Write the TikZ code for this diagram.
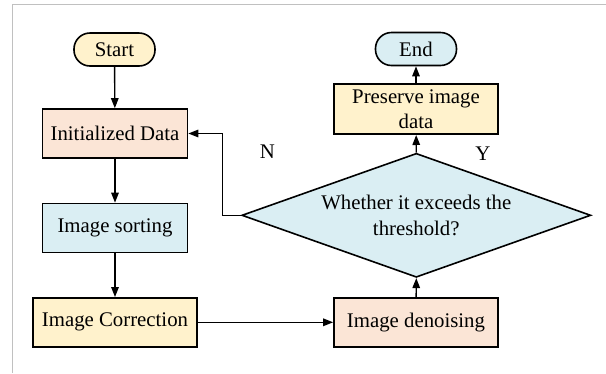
\documentclass[tikz,border=0pt]{standalone}
\usepackage{fontspec}
\setmainfont{Liberation Serif}
\usetikzlibrary{shapes.geometric,arrows.meta}
\definecolor{boxyellow}{HTML}{FFF2CC}
\definecolor{boxpeach}{HTML}{FBE5D6}
\definecolor{boxblue}{HTML}{DAEEF3}
\definecolor{framegray}{HTML}{C0C0C0}
\begin{document}
\begin{tikzpicture}[x=1pt,y=-1pt,
  every node/.style={font=\fontsize{20.8}{25.5}\selectfont},
  procbox/.style={draw=black,line width=1.6pt,rectangle,inner sep=0pt,align=center},
  terminal/.style={draw=black,line width=1.6pt,rectangle,rounded corners=16pt,
    minimum width=81pt,minimum height=33pt,inner sep=0pt},
  decision/.style={draw=black,line width=1.6pt,diamond,aspect=2.81,inner sep=0pt,
    minimum width=349pt,minimum height=124pt,align=center},
  flow/.style={line width=1.4pt,-{Triangle[length=10pt,width=7.5pt]}}]
  \useasboundingbox (0,0) rectangle (606,373);
  % partial frame
  \draw[framegray,line width=1.5pt] (12.5,373) -- (12.5,4.5) -- (606,4.5);

  % left column
  \node[terminal,fill=boxyellow] (start) at (114.5,49.5) {Start};
  \node[procbox,fill=boxpeach,minimum width=145pt,minimum height=49pt] (init) at (115,133.5) {Initialized Data};
  \node[procbox,fill=boxblue,minimum width=145pt,minimum height=49pt] (sort) at (115,228) {Image sorting};
  \node[procbox,fill=boxyellow,minimum width=164.5pt,minimum height=49pt] (corr) at (115,322.3) {Image Correction};

  % right column
  \node[procbox,fill=boxpeach,minimum width=164pt,minimum height=49pt] (deno) at (416,322.3) {Image denoising};
  \node[decision,fill=boxblue] (dec) at (416.3,215.3) {Whether it exceeds the\\threshold?};
  \node[procbox,fill=boxyellow,minimum width=164pt,minimum height=50pt] (keep) at (416,109.2) {Preserve image\\data};
  \node[terminal,fill=boxblue] (end) at (416,49) {End};

  % branch labels
  \node (nlab) at (267.5,152) {N};
  \node (ylab) at (483,154) {Y};

  % connectors
  \draw[flow] (start) -- (init);
  \draw[flow] (init) -- (sort);
  \draw[flow] (sort) -- (corr);
  \draw[flow] (corr) -- (deno);
  \draw[flow] (deno) -- (dec.south);
  \draw[flow] (dec.north) -- (keep);
  \draw[flow] (keep) -- (end);
  \coordinate (nbend) at (222.7,215.3);
  \draw[flow] (dec.west) -- (nbend) |- (init.east);
\end{tikzpicture}
\end{document}
